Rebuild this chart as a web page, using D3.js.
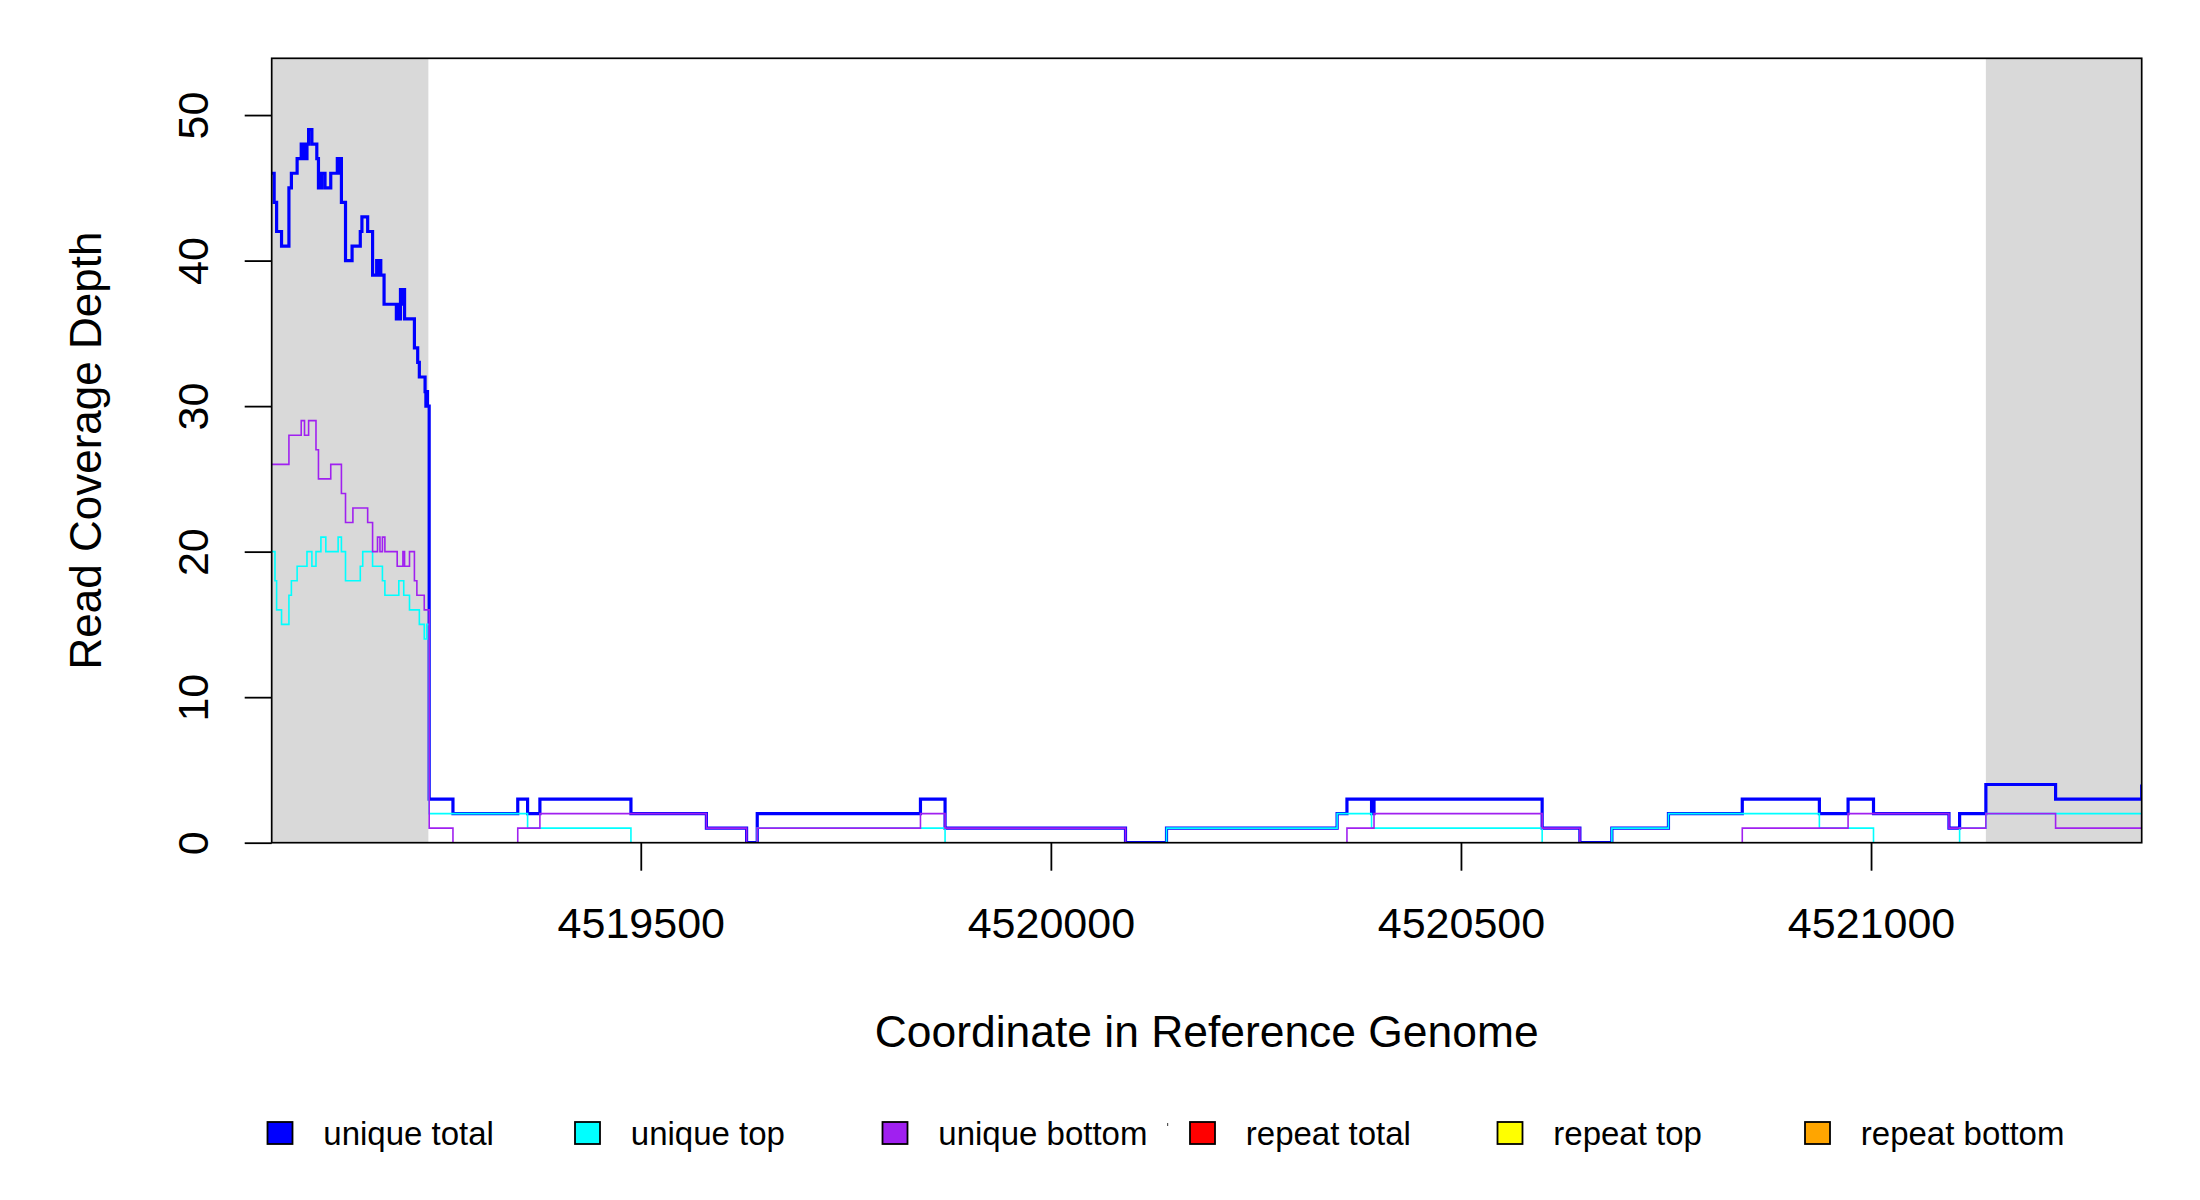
<!DOCTYPE html>
<html><head><meta charset="utf-8">
<script src="https://cdnjs.cloudflare.com/ajax/libs/d3/7.8.5/d3.min.js"></script>
<style>body{margin:0;background:#fff}</style>
</head><body><svg id="chart" width="2200" height="1200"></svg>
<script>
// ---------- data ----------
const xDomain = [4519050, 4521330];
const yMax = 53.9;
const xTicks = [4519500, 4520000, 4520500, 4521000];
const yTicks = [0, 10, 20, 30, 40, 50];
const flankRegions = [[4519050, 4519241], [4521140, 4521330]];
const xTitle = "Coordinate in Reference Genome";
const yTitle = "Read Coverage Depth";
const legendLabels = ["unique total", "unique top", "unique bottom", "repeat total", "repeat top", "repeat bottom"];
const legendColors = ["#0000FF", "#00FFFF", "#A020F0", "#FF0000", "#FFFF00", "#FFA500"];

// step change points: [position, depth]
const uniqueTotal = [[4519050,46],[4519053,44],[4519056,42],[4519062,41],[4519071,45],[4519074,46],[4519081,47],[4519086,48],[4519088,47],[4519090,48],[4519091,47],[4519093,48],[4519095,49],[4519099,48],[4519105,47],[4519107,45],[4519109,46],[4519110,45],[4519111,46],[4519115,45],[4519122,46],[4519130,47],[4519132,46],[4519134,47],[4519135,44],[4519140,40],[4519148,41],[4519158,42],[4519160,43],[4519167,42],[4519173,39],[4519178,40],[4519180,39],[4519182,40],[4519183,39],[4519187,37],[4519202,36],[4519203,37],[4519204,36],[4519205,37],[4519206,36],[4519207,38],[4519209,37],[4519210,38],[4519212,36],[4519224,34],[4519228,33],[4519230,32],[4519237,31],[4519238,30],[4519239,31],[4519240,30],
  [4519242,3],[4519271,2],[4519350,3],[4519362,2],[4519377,3],[4519488,2],[4519580,1],[4519629,0],[4519642,2],[4519841,3],[4519871,1],[4520091,0],[4520141,1],[4520349,2],[4520361,3],[4520391,2],[4520394,3],[4520599,1],[4520645,0],[4520684,1],[4520753,2],[4520843,3],[4520937,2],[4520972,3],[4521003,2],[4521095,1],[4521108,2],[4521140,4],[4521225,3],[4521330,4]];
const uniqueTop = [[4519050,20],[4519054,18],[4519056,16],[4519062,15],[4519071,17],[4519074,18],[4519081,19],[4519093,20],[4519099,19],[4519104,20],[4519110,21],[4519116,20],[4519131,21],[4519135,20],[4519140,18],[4519158,19],[4519161,20],[4519173,19],[4519185,18],[4519188,17],[4519205,18],[4519211,17],[4519218,16],[4519230,15],[4519236,14],[4519239,15],
  [4519242,2],[4519362,1],[4519488,0],[4519642,1],[4519871,0],[4520141,1],[4520349,2],[4520391,1],[4520599,0],[4520684,1],[4520753,2],[4520937,1],[4521003,0],[4521108,1],[4521140,2],[4521330,2]];
const uniqueBottom = [[4519050,26],[4519071,28],[4519086,29],[4519090,28],[4519095,29],[4519104,27],[4519107,25],[4519122,26],[4519135,24],[4519140,22],[4519149,23],[4519167,22],[4519173,20],[4519179,21],[4519182,20],[4519185,21],[4519188,20],[4519203,19],[4519210,20],[4519212,19],[4519218,20],[4519224,18],[4519227,17],[4519236,16],
  [4519242,1],[4519271,0],[4519350,1],[4519377,2],[4519580,1],[4519629,0],[4519642,1],[4519841,2],[4519871,1],[4520091,0],[4520361,1],[4520394,2],[4520599,1],[4520645,0],[4520843,1],[4520972,2],[4521095,1],[4521140,2],[4521225,1],[4521330,2]];
const repeatTotal = [[4519050,0],[4521330,0]];
const repeatTop = [[4519050,0],[4521330,0]];
const repeatBottom = [[4519050,0],[4521330,0]];

// ---------- layout ----------
const L = 271.7, R = 2141.7, T = 58.3, B = 842.7;
const FONT = "'Liberation Sans', Arial, sans-serif";
const svg = d3.select("#chart");
svg.append("rect").attr("width", 2200).attr("height", 1200).attr("fill", "#fff");

const x = d3.scaleLinear().domain(xDomain).range([L, R]);
const y = d3.scaleLinear().domain([0, yMax]).range([B, T]);

svg.append("defs").append("clipPath").attr("id", "clip")
  .append("rect").attr("x", L).attr("y", T).attr("width", R - L).attr("height", B - T);

// flank shading
svg.append("g").selectAll("rect").data(flankRegions).join("rect")
  .attr("x", d => x(d[0])).attr("width", d => x(d[1]) - x(d[0]))
  .attr("y", T).attr("height", B - T).attr("fill", "#D9D9D9");

// lines
const line = d3.line().x(d => x(d[0])).y(d => y(d[1])).curve(d3.curveStepAfter);
const lineSeries = [
  { data: repeatTotal, color: legendColors[3], w: 1.6 },
  { data: repeatTop, color: legendColors[4], w: 1.6 },
  { data: repeatBottom, color: legendColors[5], w: 1.6 },
  { data: uniqueTotal, color: legendColors[0], w: 3.2 },
  { data: uniqueTop, color: legendColors[1], w: 1.6 },
  { data: uniqueBottom, color: legendColors[2], w: 1.6 },
];
const gl = svg.append("g").attr("clip-path", "url(#clip)");
lineSeries.forEach(s => {
  gl.append("path").datum(s.data).attr("d", line)
    .attr("fill", "none").attr("stroke", s.color).attr("stroke-width", s.w)
    .attr("stroke-linejoin", "miter").attr("stroke-linecap", "butt");
});

// box
svg.append("rect").attr("x", L).attr("y", T).attr("width", R - L).attr("height", B - T)
  .attr("fill", "none").attr("stroke", "#000").attr("stroke-width", 1.7);

// x axis
const xAxis = d3.axisBottom(x).tickValues(xTicks).tickSize(28).tickFormat(d3.format("d"));
const gx = svg.append("g").attr("transform", `translate(0,${B})`).call(xAxis);
gx.select(".domain").remove();
gx.selectAll(".tick line").attr("stroke", "#000").attr("stroke-width", 1.8);
gx.selectAll(".tick text").attr("y", 95).attr("dy", null)
  .attr("font-family", FONT).attr("font-size", 43).attr("fill", "#000");

// y axis
const yAxis = d3.axisLeft(y).tickValues(yTicks).tickSize(27);
const gy = svg.append("g").attr("transform", `translate(${L},0)`).call(yAxis);
gy.select(".domain").remove();
gy.selectAll(".tick line").attr("stroke", "#000").attr("stroke-width", 1.8);
gy.selectAll(".tick text")
  .attr("x", null).attr("dy", null)
  .attr("transform", "translate(-63.5,0) rotate(-90)")
  .attr("text-anchor", "middle")
  .attr("font-family", FONT).attr("font-size", 43).attr("fill", "#000");

// titles
svg.append("text").attr("x", (L + R) / 2).attr("y", 1047).attr("text-anchor", "middle")
  .attr("font-family", FONT).attr("font-size", 44.4).attr("fill", "#000").text(xTitle);
svg.append("text").attr("transform", `translate(101,${(T + B) / 2}) rotate(-90)`)
  .attr("text-anchor", "middle").attr("font-family", FONT).attr("font-size", 44)
  .attr("fill", "#000").text(yTitle);

// legend
const legendX0 = 280, legendStep = 307.5, legendY = 1133;
const lg = svg.append("g").selectAll("g").data(legendLabels).join("g")
  .attr("transform", (d, i) => `translate(${legendX0 + i * legendStep},${legendY})`);
lg.append("rect").attr("x", -12.5).attr("y", -11).attr("width", 25).attr("height", 22)
  .attr("fill", (d, i) => legendColors[i]).attr("stroke", "#000").attr("stroke-width", 1.8);
lg.append("text").attr("x", 43.3).attr("y", 12).attr("font-family", FONT).attr("font-size", 33)
  .attr("fill", "#000").text(d => d);

// tiny stray mark present in the reference legend
svg.append("rect").attr("x", 1167).attr("y", 1123).attr("width", 1.2).attr("height", 3).attr("fill", "#555");
</script></body></html>
